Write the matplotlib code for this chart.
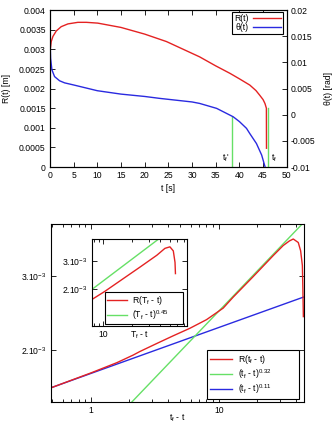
import matplotlib
matplotlib.use("Agg")
import matplotlib.pyplot as plt
from matplotlib.ticker import FixedLocator, NullFormatter, NullLocator

plt.rcParams['font.family'] = ['Liberation Sans', 'DejaVu Sans']
plt.rcParams['font.size'] = 6.2
plt.rcParams['mathtext.fontset'] = 'custom'
plt.rcParams['mathtext.rm'] = 'Liberation Sans'
plt.rcParams['mathtext.it'] = 'Liberation Sans:italic'
plt.rcParams['mathtext.default'] = 'regular'

RED = '#e42222'
GREEN = '#66e066'
BLUE = '#2a2ae0'

# top panel: R(t) and theta(t)
t_R = [0, 0.1, 0.28, 0.63, 1.34, 2.39, 3.8, 5.9, 7.7, 10.1, 15, 20, 24.6, 31.6,
       35, 38, 40, 42.2, 43.5, 44.3, 45.0, 45.4, 45.7, 45.72]
R_t = [2.85e-3, 3.02e-3, 3.20e-3, 3.33e-3, 3.47e-3, 3.58e-3, 3.65e-3, 3.69e-3,
       3.69e-3, 3.67e-3, 3.56e-3, 3.39e-3, 3.20e-3, 2.81e-3, 2.58e-3, 2.39e-3,
       2.25e-3, 2.09e-3, 1.95e-3, 1.83e-3, 1.72e-3, 1.62e-3, 1.50e-3, 0.48e-3]
t_th = [0, 0.03, 0.14, 0.42, 0.98, 2.04, 3.1, 5.0, 10.0, 15, 20, 23.2, 30, 31.6,
        35.2, 38.7, 40, 41.5, 42.2, 43.6, 44.7, 45.4]
theta_t = [0.0185, 0.0145, 0.0108, 0.0086, 0.0073, 0.0065, 0.0061, 0.0057,
           0.0046, 0.00395, 0.0035, 0.00313, 0.00245, 0.00217, 0.00122,
           -0.00039, -0.0013, -0.0026, -0.0036, -0.0055, -0.0077, -0.0099]
tf_prime = 38.5
tf_prime_top = 1.28e-3
tf = 46.05
tf_top = 1.50e-3

# bottom panel: R vs (tf - t), log-log
tau = [0.484, 1.0, 1.6, 2.14, 2.41, 3.26, 4.39, 5.94, 8.0, 10.8, 12.9, 18.5,
       26.6, 31.8, 35.5, 38.1, 41.7, 43.5, 44.9, 45.3, 45.7]
R_tau = [1.62e-3, 1.76e-3, 1.863e-3, 1.942e-3, 1.98e-3, 2.069e-3, 2.159e-3,
         2.251e-3, 2.36e-3, 2.515e-3, 2.67e-3, 2.99e-3, 3.36e-3, 3.55e-3,
         3.64e-3, 3.68e-3, 3.61e-3, 3.45e-3, 3.18e-3, 2.80e-3, 2.40e-3]
fit032_x = [1.5, 60.0]
fit032_y = [1.349e-3, 4.39e-3]
fit011_x = [0.4, 60.0]
fit011_y = [1.587e-3, 2.753e-3]

# inset: R vs (Tf - t)
tau_in = [7.66, 10.4, 16.4, 24.5, 36.7, 44.6, 50.3, 54.6, 56.9, 57.5]
R_in = [1.73e-3, 1.94e-3, 2.34e-3, 2.76e-3, 3.27e-3, 3.61e-3, 3.69e-3,
        3.48e-3, 2.95e-3, 2.51e-3]
fit045_x = [7.0, 40.0]
fit045_y = [1.92e-3, 4.21e-3]

fig = plt.figure(figsize=(3.35, 4.24), dpi=100)


def style(ax):
    for s in ax.spines.values():
        s.set_linewidth(0.8)
    ax.tick_params(which='both', direction='in', top=True, right=True,
                   width=0.6, pad=3)
    ax.tick_params(which='major', length=3.5)
    ax.tick_params(which='minor', length=2)


def box(leg):
    leg.get_frame().set_linewidth(0.8)
    leg.get_frame().set_edgecolor('black')


# ---- top ----
ax1 = fig.add_axes([0.149, 0.606, 0.707, 0.370])
ax2 = ax1.twinx()
style(ax1)
ax1.tick_params(right=False)
ax2.tick_params(direction='in', length=3.5, width=0.6, pad=3)

ax1.plot([tf_prime, tf_prime], [0, tf_prime_top], color=GREEN, lw=1.0)
ax1.plot([tf, tf], [0, tf_top], color=GREEN, lw=1.0)
lr, = ax1.plot(t_R, R_t, color=RED, lw=1.0)
lb, = ax2.plot(t_th, theta_t, color=BLUE, lw=1.0)

ax1.set_xlim(0, 50)
ax1.set_ylim(0, 0.004)
ax2.set_ylim(-0.01, 0.02)
ax1.set_xticks(range(0, 51, 5))
r_ticks = [0, 0.0005, 0.001, 0.0015, 0.002, 0.0025, 0.003, 0.0035, 0.004]
ax1.set_yticks(r_ticks)
ax1.set_yticklabels(['0', '0.0005', '0.001', '0.0015', '0.002', '0.0025',
                     '0.003', '0.0035', '0.004'])
th_ticks = [-0.01, -0.005, 0, 0.005, 0.01, 0.015, 0.02]
ax2.set_yticks(th_ticks)
ax2.set_yticklabels(['-0.01', '-0.005', '0', '0.005', '0.01', '0.015', '0.02'])
ax1.set_xlabel('t [s]', labelpad=3)
ax1.set_ylabel('R(t) [m]', labelpad=6)
ax2.set_ylabel('θ(t) [rad]', labelpad=6)
ax1.text(tf_prime - 0.6, 0.00022, "t$_f$'", ha='right', va='center')
ax1.text(tf + 0.6, 0.00022, "t$_f$", ha='left', va='center')
leg1 = ax1.legend([lr, lb], ['R(t)', 'θ(t)'], loc='upper right',
                  markerfirst=False, fancybox=False, framealpha=1,
                  handlelength=3.2, handletextpad=0.6, borderpad=0.2,
                  labelspacing=0.05, borderaxespad=0,
                  bbox_to_anchor=(0.983, 0.987))
box(leg1)

# ---- bottom ----
ax3 = fig.add_axes([0.152, 0.052, 0.755, 0.420])
style(ax3)
ax3.plot(fit011_x, fit011_y, color=BLUE, lw=1.0, label=r'(t$_f$ - t)$^{0.11}$')
ax3.plot(fit032_x, fit032_y, color=GREEN, lw=1.0, label=r'(t$_f$ - t)$^{0.32}$')
ax3.plot(tau, R_tau, color=RED, lw=1.0, label=r'R(t$_f$ - t)')
ax3.set_xscale('log')
ax3.set_yscale('log')
ax3.set_xlim(0.487, 46.1)
ax3.set_ylim(1.5e-3, 4.0e-3)
ax3.xaxis.set_major_locator(FixedLocator([1, 10]))
ax3.set_xticklabels(['1', '10'])
ax3.xaxis.set_minor_locator(FixedLocator([0.5, 0.6, 0.7, 0.8, 0.9] +
                                         list(range(2, 10)) +
                                         [20, 30, 40]))
ax3.xaxis.set_minor_formatter(NullFormatter())
ax3.yaxis.set_major_locator(FixedLocator([2e-3, 3e-3]))
ax3.set_yticklabels([r'2.10$^{-3}$', r'3.10$^{-3}$'])
ax3.yaxis.set_minor_locator(NullLocator())
ax3.set_xlabel(r't$_f$ - t')
ax3.xaxis.set_label_coords(0.5, -0.062)
h, l = ax3.get_legend_handles_labels()
leg3 = ax3.legend(h[::-1], l[::-1], loc='lower left', mode='expand',
                  fancybox=False, framealpha=1, handlelength=2.6,
                  handletextpad=0.6, borderpad=0.35, labelspacing=0.15,
                  borderaxespad=0,
                  bbox_to_anchor=(0.617, 0.017, 0.363, 0.26))
box(leg3)

# ---- inset ----
ax4 = fig.add_axes([0.2746, 0.2311, 0.2836, 0.2052])
style(ax4)
ax4.plot(fit045_x, fit045_y, color=GREEN, lw=1.0, label=r'(T$_f$ - t)$^{0.45}$')
ax4.plot(tau_in, R_in, color=RED, lw=1.0, label=r'R(T$_f$ - t)')
ax4.set_xscale('log')
ax4.set_yscale('log')
ax4.set_xlim(7.66, 76)
ax4.set_ylim(1.18e-3, 4.13e-3)
ax4.xaxis.set_major_locator(FixedLocator([10]))
ax4.set_xticklabels(['10'])
ax4.xaxis.set_minor_locator(FixedLocator([8, 9, 20, 30, 40, 50, 60, 70]))
ax4.xaxis.set_minor_formatter(NullFormatter())
ax4.yaxis.set_major_locator(FixedLocator([2e-3, 3e-3]))
ax4.set_yticklabels([r'2.10$^{-3}$', r'3.10$^{-3}$'])
ax4.yaxis.set_minor_locator(NullLocator())
ax4.set_xlabel(r'T$_f$ - t')
ax4.xaxis.label.set_va('center')
ax4.xaxis.set_label_coords(0.505, -0.11)
h, l = ax4.get_legend_handles_labels()
leg4 = ax4.legend(h[::-1], l[::-1], loc='lower left', mode='expand',
                  fancybox=False, framealpha=1, handlelength=2.3,
                  handletextpad=0.6, borderpad=0.25, labelspacing=0.1,
                  borderaxespad=0,
                  bbox_to_anchor=(0.137, 0.023, 0.821, 0.33))
box(leg4)

fig.savefig('out.png', dpi=100)
